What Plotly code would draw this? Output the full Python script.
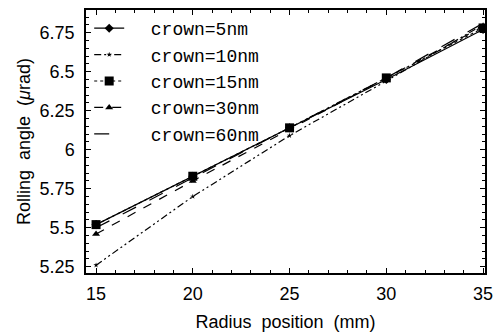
import plotly.graph_objects as go

radius = [15, 20, 25, 30, 35]
names = ["crown=5nm", "crown=10nm", "crown=15nm", "crown=30nm", "crown=60nm"]
crown5 = [5.52, 5.83, 6.14, 6.45, 6.77]
crown10 = [5.26, 5.70, 6.09, 6.44, 6.80]
crown15 = [5.52, 5.83, 6.14, 6.46, 6.78]
crown30 = [5.46, 5.80, 6.13, 6.46, 6.79]
crown60 = [5.50, 5.82, 6.14, 6.46, 6.81]
yticks = [5.25, 5.5, 5.75, 6, 6.25, 6.5, 6.75]
ytick_labels = ["5.25", "5.5", "5.75", "6", "6.25", "6.5", "6.75"]
xticks = [15, 20, 25, 30, 35]

series = [crown5, crown10, crown15, crown30, crown60]
styles = [
    dict(dash="solid", symbol="diamond", size=7),
    dict(dash="7px,3px,2px,3px,2px,3px", symbol="star", size=4),
    dict(dash="dot", symbol="square", size=9),
    dict(dash="dash", symbol="triangle-up", size=7),
    dict(dash="longdash", symbol=None, size=0),
]

fig = go.Figure()
for name, ys, st in zip(names, series, styles):
    mode = "lines+markers" if st["symbol"] else "lines"
    marker = dict(symbol=st["symbol"], size=st["size"], color="black") if st["symbol"] else None
    fig.add_trace(go.Scatter(
        x=radius, y=ys, name="\u00a0\u00a0" + name, mode=mode,
        line=dict(color="black", width=1.2, dash=st["dash"]),
        marker=marker,
    ))

font_sans = "Liberation Sans, Arial"
axis_common = dict(
    showline=True, linecolor="black", linewidth=1.5, mirror="ticks",
    ticks="inside", ticklen=5, tickcolor="black", showgrid=False, zeroline=False,
    tickfont=dict(family=font_sans, size=18, color="black"), automargin=False,
)
fig.update_xaxes(
    range=[14.48, 35.1], tickvals=xticks, ticklabelstandoff=4,
    minor=dict(ticks="inside", ticklen=3, dtick=1, tickcolor="black"),
    title=dict(text="Radius  position  (mm)", font=dict(family=font_sans, size=18, color="black"), standoff=12),
    **axis_common,
)
fig.update_yaxes(
    range=[5.21, 6.895], tickvals=yticks, ticktext=ytick_labels, ticklabelstandoff=6,
    minor=dict(ticks="inside", ticklen=3, dtick=0.05, tickcolor="black"),
    title=dict(text="Rolling  angle  (<i>μ</i>rad)", font=dict(family=font_sans, size=18, color="black"), standoff=4),
    **axis_common,
)
fig.update_layout(
    width=498, height=332,
    margin=dict(l=86, r=13, t=10, b=59),
    paper_bgcolor="white", plot_bgcolor="white",
    showlegend=True,
    legend=dict(
        x=0.008, y=1.0, xanchor="left", yanchor="top",
        bgcolor="rgba(0,0,0,0)", borderwidth=0,
        font=dict(family="Liberation Mono, Courier New", size=18, color="black"),
        itemwidth=30, tracegroupgap=0,
    ),
)
fig.write_html("out.html")
